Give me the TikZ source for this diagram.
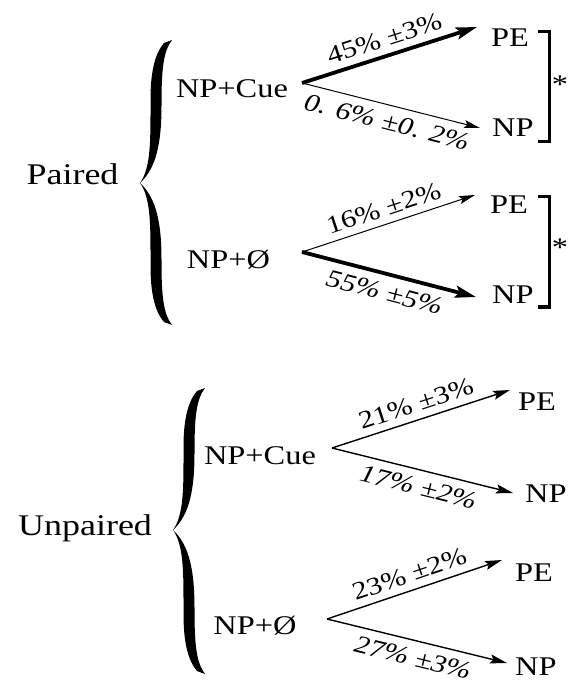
\documentclass[tikz,border=0pt]{standalone}
\usepackage{fontspec}
\setmainfont{Liberation Serif}[FakeStretch=1.2]
\usetikzlibrary{arrows.meta,calc}

% one half of a curly brace: tip x, end y, middle (tip) y;
% a tapered stroke, thick along the spine, thin at the tip, blunt at the end
\newcommand\bracehalf[3]{%
  \fill ({#1+24},{#2+0.007*(#3-#2)})
    .. controls ({#1+14},{#2+0.09*(#3-#2)}) and ({#1+10.5},{#2+0.23*(#3-#2)}) .. ({#1+10.5},{#2+0.41*(#3-#2)})
    .. controls ({#1+10.5},{#2+0.70*(#3-#2)}) and ({#1+11},{#2+0.89*(#3-#2)}) .. (#1,#3)
    .. controls ({#1+17},{#2+0.89*(#3-#2)}) and ({#1+21.5},{#2+0.70*(#3-#2)}) .. ({#1+21.5},{#2+0.45*(#3-#2)})
    .. controls ({#1+21.5},{#2+0.20*(#3-#2)}) and ({#1+23},{#2+0.07*(#3-#2)}) .. ({#1+32},{#2-0.014*(#3-#2)})
    -- cycle;}
% whole brace: tip x, top y, middle y, bottom y
\newcommand\curlybrace[4]{\bracehalf{#1}{#2}{#3}\bracehalf{#1}{#4}{#3}}

\tikzset{
  grp/.style={font=\fontsize{30}{34}\selectfont, inner sep=0pt, anchor=base},
  cond/.style={font=\fontsize{27}{30}\selectfont, inner sep=0pt, anchor=base},
  outc/.style={font=\fontsize{27}{30}\selectfont, inner sep=0pt, anchor=base west},
  lab/.style={font=\fontsize{25}{28}\selectfont, inner sep=0pt, sloped, pos=0.5},
  labup/.style={lab, above=7pt},
  labdn/.style={lab, below=8pt, font=\fontsize{25}{28}\selectfont\itshape},
  thinarr/.style={line width=1pt, -{Stealth[length=16pt,width=8pt,inset=3pt]}},
  midarr/.style={line width=1.4pt, -{Stealth[length=17pt,width=9pt,inset=3pt]}},
  thickarr/.style={line width=3.8pt, -{Stealth[length=21pt,width=12pt,inset=4pt]}},
  sigbracket/.style={line width=3.5pt, line join=miter},
  star/.style={font=\fontsize{27}{30}\selectfont, inner sep=0pt, anchor=base}
}

\begin{document}
\begin{tikzpicture}[x=1pt, y=-1pt]
\useasboundingbox (0,0) rectangle (576,684);

% ---------- paired ----------
\node[grp] (paired) at (72.5,185) {Paired};
\curlybrace{140}{42}{183}{323}

\node[cond] (cue1) at (232,98) {NP+Cue};
\node[cond] (nul1) at (228.5,268) {NP+Ø};

\coordinate (f1) at (302,83);
\coordinate (f2) at (302,252);

\node[outc] (pe1) at (491,46.5) {PE};
\node[outc] (np1) at (492,136.7) {NP};
\node[outc] (pe2) at (490,213.3) {PE};
\node[outc] (np2) at (492,303.3) {NP};

\draw[thickarr] (f1) -- ($(pe1.base west)+(-14,-19.5)$)
  node[labup] {45\% ±3\%};
\draw[thinarr] (f1) -- ($(np1.base west)+(-12,-8.7)$)
  node[labdn] {0. 6\% ±0. 2\%};
\draw[thinarr] (f2) -- ($(pe2.base west)+(-15,-18.3)$)
  node[labup] {16\% ±2\%};
\draw[thickarr] (f2) -- ($(np2.base west)+(-16,-6.3)$)
  node[labdn] {55\% ±5\%};

% significance brackets
\draw[sigbracket] (538,31.5) -- (549.5,31.5) -- (549.5,141.5) -- (538,141.5);
\node[star] (s1) at (560,94) {*};
\draw[sigbracket] (538,196.5) -- (549.5,196.5) -- (549.5,307) -- (538,307);
\node[star] (s2) at (560,257) {*};

% ---------- unpaired ----------
\node[grp] (unpaired) at (85,535) {Unpaired};
\curlybrace{173}{390}{530}{672}

\node[cond] (cue2) at (260,464) {NP+Cue};
\node[cond] (nul2) at (255,634) {NP+Ø};

\coordinate (f3) at (332,448);
\coordinate (f4) at (327,619);

\node[outc] (pe3) at (518,410.7) {PE};
\node[outc] (np3) at (525,502) {NP};
\node[outc] (pe4) at (515,581) {PE};
\node[outc] (np4) at (515,675) {NP};

\draw[midarr] (f3) -- ($(pe3.base west)+(-8,-20.7)$)
  node[labup] {21\% ±3\%};
\draw[midarr] (f3) -- ($(np3.base west)+(-12,-9)$)
  node[labdn] {17\% ±2\%};
\draw[midarr] (f4) -- ($(pe4.base west)+(-13,-21)$)
  node[labup] {23\% ±2\%};
\draw[midarr] (f4) -- ($(np4.base west)+(-8,-12)$)
  node[labdn] {27\% ±3\%};
\end{tikzpicture}
\end{document}
